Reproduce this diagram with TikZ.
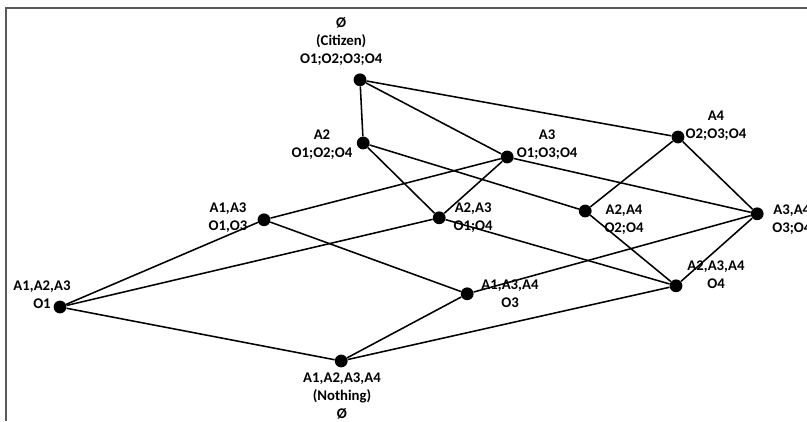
\documentclass[tikz,border=0pt]{standalone}
\usepackage{fontspec}
\setmainfont{Carlito}
\usetikzlibrary{positioning}
\definecolor{framegray}{HTML}{5A5A5A}

\begin{document}
\begin{tikzpicture}[
  conceptdot/.style={circle, fill=black, inner sep=0pt, minimum size=0.32cm},
  conceptlbl/.style={font=\fontsize{10.5}{12.8}\selectfont\bfseries, align=center, inner sep=0pt},
  latticeedge/.style={draw=black, line width=1.1pt},
]
\useasboundingbox (0,0) rectangle (20.175,10.525);

% Frame
\draw[framegray, line width=1.3pt] (0.15,0) -- (0.15,10.325) -- (20.3,10.325);

% Concepts (dots)
\node[conceptdot] (top) at (9.00, 8.53) {};
\node[conceptdot] (c2) at (9.08, 6.95) {};
\node[conceptdot] (c3) at (12.68, 6.60) {};
\node[conceptdot] (c4) at (16.95, 7.10) {};
\node[conceptdot] (c13) at (6.60, 5.03) {};
\node[conceptdot] (c23) at (10.98, 5.08) {};
\node[conceptdot] (c24) at (14.63, 5.25) {};
\node[conceptdot] (c34) at (18.93, 5.18) {};
\node[conceptdot] (c123) at (1.50, 2.85) {};
\node[conceptdot] (c134) at (11.68, 3.18) {};
\node[conceptdot] (c234) at (16.90, 3.38) {};
\node[conceptdot] (bot) at (8.53, 1.50) {};

% Labels
\node[conceptlbl] (ltop) at (8.53, 9.50) {Ø\\(Citizen)\\O1;O2;O3;O4};
\node[conceptlbl] (l2) at (8.05, 6.90) {A2\\O1;O2;O4};
\node[conceptlbl] (l3) at (13.68, 6.90) {A3\\O1;O3;O4};
\node[conceptlbl] (l4) at (17.90, 7.38) {A4\\O2;O3;O4};
\node[conceptlbl] (l13) at (5.70, 5.08) {A1,A3\\O1,O3};
\node[conceptlbl] (l23) at (11.83, 5.08) {A2,A3\\O1;O4};
\node[conceptlbl] (l24) at (15.60, 5.03) {A2,A4\\O2;O4};
\node[conceptlbl, anchor=west] (l34) at (19.30, 5.03) {A3,A4\\O3;O4};
\node[conceptlbl] (l123) at (1.05, 3.15) {A1,A2,A3\\O1};
\node[conceptlbl] (l134) at (12.75, 3.18) {A1,A3,A4\\O3};
\node[conceptlbl] (l234) at (17.90, 3.65) {A2,A3,A4\\O4};
\node[conceptlbl] (lbot) at (8.55, 0.63) {A1,A2,A3,A4\\(Nothing)\\Ø};

% Lattice edges
\draw[latticeedge] (top) -- (c2);
\draw[latticeedge] (top) -- (c3);
\draw[latticeedge] (top) -- (c4);
\draw[latticeedge] (c2) -- (c23);
\draw[latticeedge] (c2) -- (c24);
\draw[latticeedge] (c3) -- (c13);
\draw[latticeedge] (c3) -- (c23);
\draw[latticeedge] (c3) -- (c34);
\draw[latticeedge] (c4) -- (c24);
\draw[latticeedge] (c4) -- (c34);
\draw[latticeedge] (c13) -- (c123);
\draw[latticeedge] (c13) -- (c134);
\draw[latticeedge] (c23) -- (c123);
\draw[latticeedge] (c23) -- (c234);
\draw[latticeedge] (c24) -- (c234);
\draw[latticeedge] (c34) -- (c134);
\draw[latticeedge] (c34) -- (c234);
\draw[latticeedge] (c123) -- (bot);
\draw[latticeedge] (c134) -- (bot);
\draw[latticeedge] (c234) -- (bot);

\end{tikzpicture}
\end{document}
